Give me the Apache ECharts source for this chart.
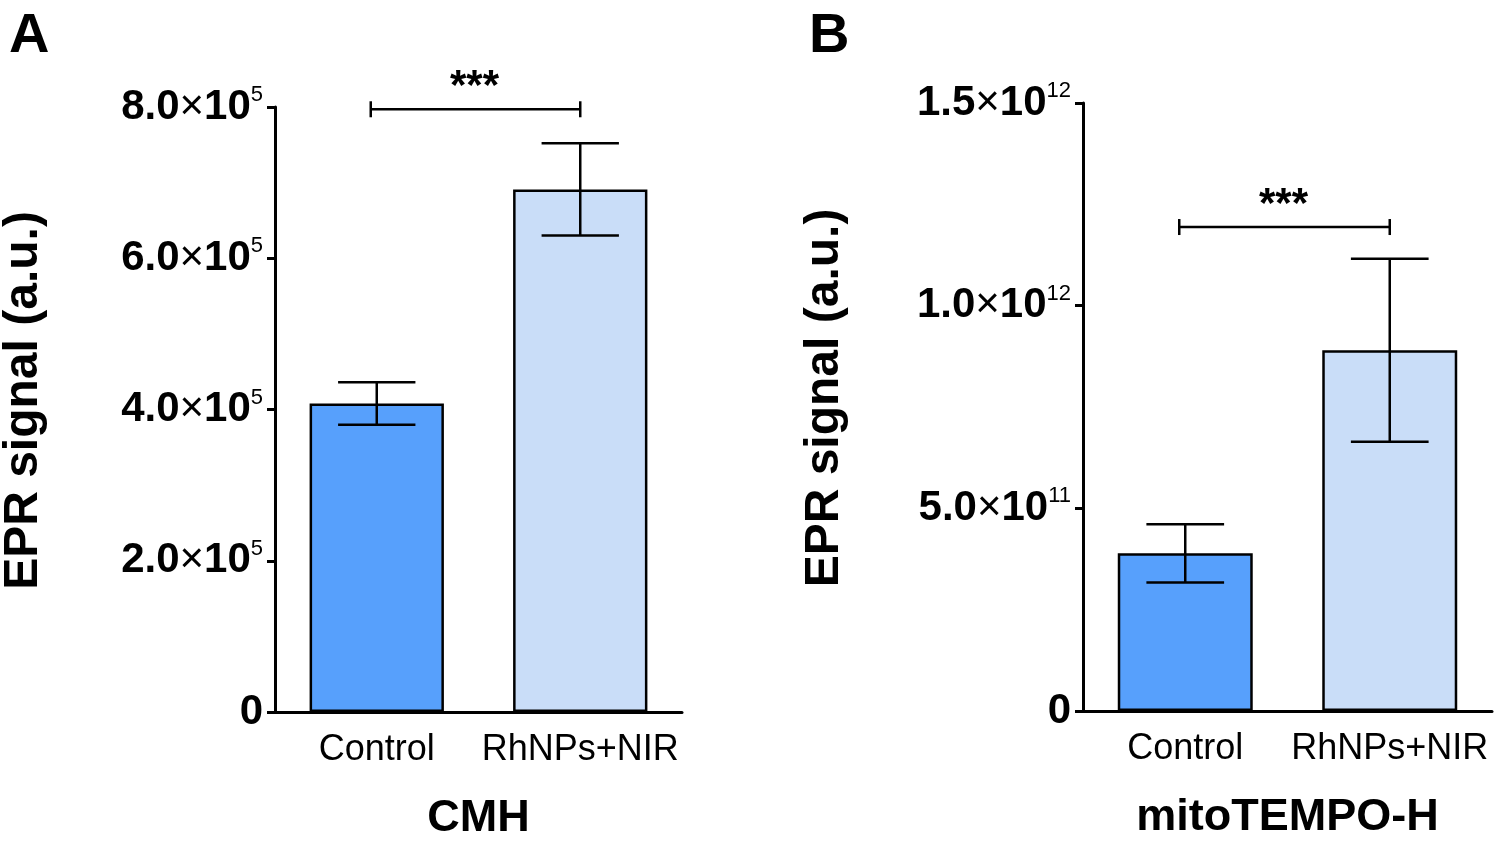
<!DOCTYPE html>
<html lang="en">
<head>
    <title>EPR signal</title>
    <meta charset="utf-8">
    <style>
        html, body { margin: 0; padding: 0; background: #fff; }
    </style>
</head>
<body>
<script type="text/javascript" src="https://cdn.jsdelivr.net/npm/echarts@6/dist/echarts.min.js"></script>
<div id="main" style="width: 1496px;height: 841px"></div>
<script type="text/javascript">
    // categories and values
    var categories = ['Control', 'RhNPs+NIR'];
    var cmhMean = [4.08e5, 6.91e5];
    var cmhErr = [0.28e5, 0.61e5];
    var mitoMean = [0.389e12, 0.890e12];
    var mitoErr = [0.072e12, 0.226e12];
    var cmhBracket = 7.97e5;
    var mitoBracket = 1.194e12;
    var signif = '***';
    var barColors = ['#57a0fc', '#c9ddf8'];

    var FONT = "'Liberation Sans', Arial, sans-serif";

    // 8.0x10^5 style tick labels
    function sciLabel(v) {
        if (v === 0) return '{m|0}';
        var exp = Math.floor(Math.log10(v) + 1e-9);
        var man = (v / Math.pow(10, exp)).toFixed(1);
        return '{m|' + man + '}{x|×}{m|10}{e|' + exp + '}';
    }

    var tickRich = {
        m: { fontSize: 42, fontWeight: 'bold', fontFamily: FONT, color: '#000', lineHeight: 46 },
        x: { fontSize: 42, fontFamily: FONT, color: '#000', lineHeight: 46 },
        e: { fontSize: 22, fontFamily: FONT, color: '#000', verticalAlign: 'top', lineHeight: 22 }
    };

    function barData(means) {
        return means.map(function (v, i) {
            return { value: v, itemStyle: { color: barColors[i] } };
        });
    }

    function errData(means, errs) {
        return means.map(function (v, i) { return [i, v, errs[i]]; });
    }

    function renderErr(params, api) {
        var x = api.value(0), m = api.value(1), e = api.value(2);
        var top = api.coord([x, m + e]);
        var bot = api.coord([x, m - e]);
        var half = api.size([1, 0])[0] * 0.19;
        var st = { stroke: '#000', lineWidth: 2.5 };
        return {
            type: 'group',
            children: [
                { type: 'line', shape: { x1: top[0], y1: top[1], x2: bot[0], y2: bot[1] }, style: st },
                { type: 'line', shape: { x1: top[0] - half, y1: top[1], x2: top[0] + half, y2: top[1] }, style: st },
                { type: 'line', shape: { x1: bot[0] - half, y1: bot[1], x2: bot[0] + half, y2: bot[1] }, style: st }
            ]
        };
    }

    function renderBracket(params, api) {
        var a = api.coord([api.value(0), api.value(2)]);
        var b = api.coord([api.value(1), api.value(2)]);
        var st = { stroke: '#000', lineWidth: 2.5 };
        return {
            type: 'group',
            children: [
                { type: 'line', shape: { x1: a[0] - 6, y1: a[1], x2: b[0], y2: b[1] }, style: st },
                { type: 'line', shape: { x1: a[0] - 6, y1: a[1] - 8, x2: a[0] - 6, y2: a[1] + 8 }, style: st },
                { type: 'line', shape: { x1: b[0], y1: b[1] - 8, x2: b[0], y2: b[1] + 8 }, style: st },
                {
                    type: 'text',
                    style: {
                        text: signif, x: (a[0] + b[0]) / 2 - 4, y: a[1] - 22,
                        align: 'center', verticalAlign: 'middle',
                        font: 'bold 42px ' + FONT, fill: '#000'
                    }
                }
            ]
        };
    }

    function yAxisOf(grid, max, interval, gap) {
        return {
            gridIndex: grid,
            type: 'value',
            min: 0,
            max: max,
            interval: interval,
            name: 'EPR signal (a.u.)',
            nameLocation: 'middle',
            nameGap: gap,
            nameTextStyle: { fontSize: 48, fontWeight: 'bold', fontFamily: FONT, color: '#000', padding: [0, 0, 0, 18] },
            axisLine: { show: true, lineStyle: { color: '#000', width: 3 } },
            axisTick: { show: true, length: 8, lineStyle: { color: '#000', width: 3 } },
            axisLabel: { margin: 12, formatter: sciLabel, rich: tickRich },
            splitLine: { show: false }
        };
    }

    function xAxisOf(grid, name) {
        return {
            gridIndex: grid,
            type: 'category',
            data: categories,
            name: name,
            nameLocation: 'middle',
            nameGap: 84,
            nameTextStyle: { fontSize: 45, fontWeight: 'bold', fontFamily: FONT, color: '#000' },
            axisLine: { lineStyle: { color: '#000', width: 3 } },
            axisTick: { show: false },
            axisLabel: { interval: 0, hideOverlap: false, margin: 20, fontSize: 36, fontFamily: FONT, color: '#000' }
        };
    }

    var myChart = echarts.init(document.getElementById('main'));
    var option = {
        animation: false,
        backgroundColor: '#fff',
        title: [
            { text: 'A', left: 4, top: 4, textStyle: { fontSize: 56, fontWeight: 'bold', fontFamily: FONT, color: '#000' } },
            { text: 'B', left: 804, top: 4, textStyle: { fontSize: 56, fontWeight: 'bold', fontFamily: FONT, color: '#000' } }
        ],
        grid: [
            { left: 275, right: 814, top: 107, bottom: 129, outerBoundsMode: 'none' },
            { left: 1083, right: 4, top: 103, bottom: 130, outerBoundsMode: 'none' }
        ],
        xAxis: [xAxisOf(0, 'CMH'), xAxisOf(1, 'mitoTEMPO-H')],
        yAxis: [yAxisOf(0, 8e5, 2e5, 227), yAxisOf(1, 1.5e12, 5e11, 234)],
        series: [
            {
                type: 'bar', xAxisIndex: 0, yAxisIndex: 0, barWidth: '66%',
                itemStyle: { borderColor: '#000', borderWidth: 2.5 },
                data: barData(cmhMean)
            },
            {
                type: 'custom', xAxisIndex: 0, yAxisIndex: 0, z: 5,
                renderItem: renderErr, encode: { x: 0, y: 1 },
                data: errData(cmhMean, cmhErr)
            },
            {
                type: 'custom', xAxisIndex: 0, yAxisIndex: 0, z: 5, clip: false,
                renderItem: renderBracket, encode: { x: [0, 1], y: 2 },
                data: [[0, 1, cmhBracket]]
            },
            {
                type: 'bar', xAxisIndex: 1, yAxisIndex: 1, barWidth: '66%',
                itemStyle: { borderColor: '#000', borderWidth: 2.5 },
                data: barData(mitoMean)
            },
            {
                type: 'custom', xAxisIndex: 1, yAxisIndex: 1, z: 5,
                renderItem: renderErr, encode: { x: 0, y: 1 },
                data: errData(mitoMean, mitoErr)
            },
            {
                type: 'custom', xAxisIndex: 1, yAxisIndex: 1, z: 5, clip: false,
                renderItem: renderBracket, encode: { x: [0, 1], y: 2 },
                data: [[0, 1, mitoBracket]]
            }
        ]
    };
    myChart.setOption(option);
</script>
</body>
</html>
